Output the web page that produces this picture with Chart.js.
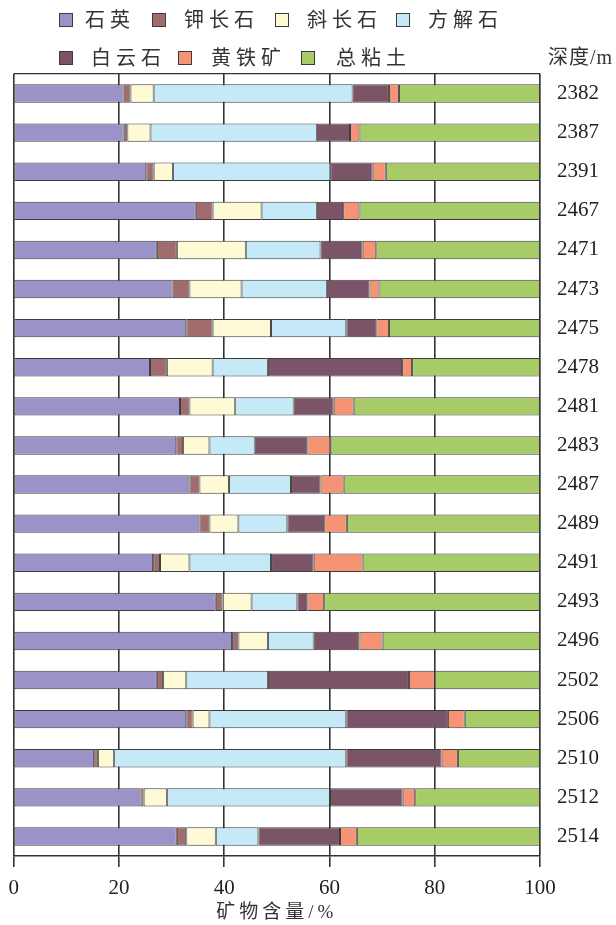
<!DOCTYPE html>
<html lang="zh-CN">
<head>
<meta charset="utf-8">
<title>矿物含量</title>
<script src="https://cdn.jsdelivr.net/npm/chart.js@4.4.1/dist/chart.umd.min.js"></script>
<style>
  html, body { margin: 0; padding: 0; background: #fff; }
  #wrap { position: relative; width: 616px; height: 925px; overflow: hidden; }
  #chart { position: absolute; left: 0; top: 0; }
  .lg-box { position: absolute; width: 14px; height: 14px; box-sizing: border-box; border: 1px solid #3c3c3c; }
  .lg-text, .depth-head {
    position: absolute; white-space: nowrap; color: #333;
    font-family: 'Liberation Serif', 'Noto Sans CJK SC', serif;
    font-size: 20px; line-height: 24px; letter-spacing: 5px;
  }
  .depth-head { letter-spacing: 1px; font-size: 20px; }
</style>
</head>
<body>
<div id="wrap">
  <canvas id="chart" width="616" height="925"></canvas>
  <div id="legend"></div>
  <div class="depth-head" style="left:548px; top:45px;">深度/m</div>
</div>
<script>
// Sample depths (m), top to bottom
const depths = ['2382', '2387', '2391', '2467', '2471', '2473', '2475', '2478', '2481', '2483',
                '2487', '2489', '2491', '2493', '2496', '2502', '2506', '2510', '2512', '2514'];

// Mineral contents (%) per depth
const quartz   = [20.9, 20.9, 25.2, 34.6, 27.2, 30.2, 32.8, 25.9, 31.6, 30.9, 33.4, 35.3, 26.5, 38.4, 41.5, 27.2, 32.8, 15.3, 24.1, 31.0];
const kFeldspar = [1.3, 0.7, 1.4, 3.2, 3.8, 3.2, 5.0, 3.2, 1.8, 1.3, 1.9, 1.9, 1.3, 1.3, 1.2, 1.2, 1.2, 0.7, 0.6, 1.8];
const plagioclase = [4.4, 4.4, 3.7, 9.3, 13.1, 9.9, 11.1, 8.7, 8.7, 5.0, 5.6, 5.5, 5.6, 5.5, 5.6, 4.4, 3.2, 3.1, 4.4, 5.6];
const calcite  = [37.8, 31.6, 29.9, 10.5, 14.2, 16.2, 14.3, 10.5, 11.1, 8.6, 11.8, 9.3, 15.5, 8.7, 8.7, 15.5, 26.0, 44.1, 31.0, 8.1];
const dolomite = [6.9, 6.3, 8.0, 5.0, 8.0, 8.1, 5.7, 25.5, 7.6, 10.0, 5.6, 7.0, 8.1, 1.9, 8.7, 26.8, 19.3, 18.1, 13.8, 15.5];
const pyrite   = [1.9, 1.8, 2.5, 3.1, 2.6, 1.9, 2.4, 1.9, 3.8, 4.4, 4.4, 4.3, 9.3, 3.2, 4.4, 4.9, 3.2, 3.1, 2.4, 3.2];
const clay     = [26.8, 34.3, 29.3, 34.3, 31.1, 30.5, 28.7, 24.3, 35.4, 39.8, 37.3, 36.7, 33.7, 41.0, 29.9, 20.0, 14.3, 15.6, 23.7, 34.8];

const seriesNames = ['石英', '钾长石', '斜长石', '方解石', '白云石', '黄铁矿', '总粘土'];
const seriesValues = [quartz, kFeldspar, plagioclase, calcite, dolomite, pyrite, clay];

// Styling
const seriesColors = ['#9b93c8', '#a16c6e', '#fffad6', '#c6e9f8', '#7c5468', '#f59474', '#a7cc67'];
const SERIF = "'Liberation Serif', 'Noto Sans CJK SC', serif";
const INK = '#333';

// Legend placement: two rows, box and label x positions
const legendSlots = [
  { box: 59,  text: 85,  y: 20 }, { box: 152, text: 184, y: 20 },
  { box: 275, text: 307, y: 20 }, { box: 396, text: 428, y: 20 },
  { box: 59,  text: 91,  y: 58 }, { box: 178, text: 211, y: 58 },
  { box: 301, text: 336, y: 58 }
];

const htmlLegend = {
  id: 'htmlLegend',
  afterUpdate(chart) {
    const host = document.getElementById('legend');
    host.innerHTML = '';
    const items = chart.options.plugins.legend.labels.generateLabels(chart);
    items.forEach((item, i) => {
      const slot = legendSlots[i];
      const box = document.createElement('div');
      box.className = 'lg-box';
      box.style.left = slot.box + 'px';
      box.style.top = (slot.y - 7) + 'px';
      box.style.background = item.fillStyle;
      const txt = document.createElement('div');
      txt.className = 'lg-text';
      txt.style.left = slot.text + 'px';
      txt.style.top = (slot.y - 12) + 'px';
      txt.textContent = item.text;
      host.appendChild(box);
      host.appendChild(txt);
    });
  }
};

// Wider character spacing for the axis title, which is painted with the grid layer;
// tick labels sit on a later layer and are drawn with normal spacing.
const titleSpacing = {
  id: 'titleSpacing',
  beforeDraw(chart) { chart.ctx.letterSpacing = '4px'; },
  beforeDatasetsDraw(chart) { chart.ctx.letterSpacing = '0px'; }
};

new Chart(document.getElementById('chart'), {
  type: 'bar',
  data: {
    labels: depths,
    datasets: seriesNames.map((name, i) => ({
      label: name,
      data: seriesValues[i],
      backgroundColor: seriesColors[i],
      borderColor: '#3c3c3c',
      borderWidth: 1,
      borderSkipped: false,
      barPercentage: 0.47,
      categoryPercentage: 1
    }))
  },
  options: {
    indexAxis: 'y',
    responsive: false,
    animation: false,
    layout: { padding: { left: 13, top: 74, right: 0, bottom: 0 } },
    plugins: {
      legend: { display: false },
      tooltip: { enabled: false }
    },
    scales: {
      x: {
        stacked: true,
        min: 0,
        max: 100,
        position: 'bottom',
        ticks: { z: 1, stepSize: 20, padding: 8.4, color: '#222', font: { family: SERIF, size: 21 } },
        grid: { color: INK, lineWidth: 1.6, tickLength: 11 },
        border: { display: true, color: INK, width: 1.6 },
        title: {
          display: true,
          text: '矿物含量/%',
          color: INK,
          font: { family: SERIF, size: 19 },
          padding: { top: 0, bottom: 1 }
        },
        afterFit(scale) { scale.height = 69; }
      },
      y: {
        stacked: true,
        position: 'right',
        ticks: { z: 1, autoSkip: false, padding: 17, color: '#222', font: { family: SERIF, size: 21 } },
        grid: {
          drawTicks: false,
          lineWidth: 1.2,
          color: (c) => (c.index === 0 ? INK : 'rgba(0,0,0,0)')
        },
        border: { display: true, color: INK, width: 1.2 },
        afterFit(scale) { scale.width = 76; }
      }
    }
  },
  plugins: [htmlLegend, titleSpacing]
});
</script>
</body>
</html>
